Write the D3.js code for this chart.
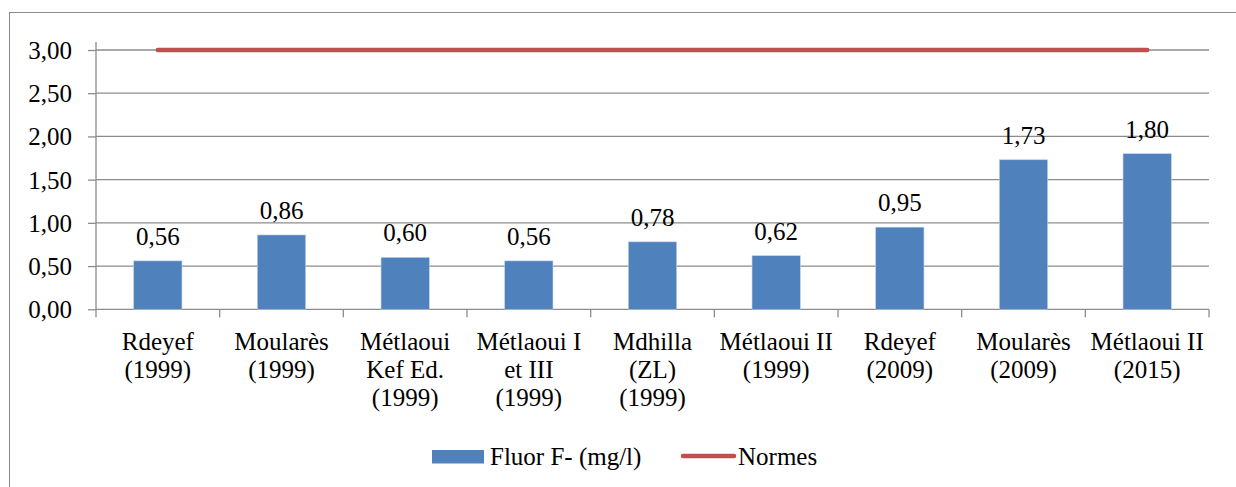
<!DOCTYPE html>
<html><head><meta charset="utf-8">
<script src="https://cdn.jsdelivr.net/npm/d3@7"></script>
<style>body{margin:0;background:#fff}svg{display:block}svg text{font-family:"Liberation Serif","Times New Roman",Times,"DejaVu Serif",serif !important;fill:#000}</style>
</head><body><svg id="c" width="1236" height="487"></svg>
<script>
const categories = [["Rdeyef","(1999)"],["Moularès","(1999)"],["Métlaoui","Kef Ed.","(1999)"],["Métlaoui I","et III","(1999)"],["Mdhilla","(ZL)","(1999)"],["Métlaoui II","(1999)"],["Rdeyef","(2009)"],["Moularès","(2009)"],["Métlaoui II","(2015)"]];
const fluor = [0.56,0.86,0.60,0.56,0.78,0.62,0.95,1.73,1.80];
const normes = [3,3,3,3,3,3,3,3,3];
const yTicks = [0,0.5,1,1.5,2,2.5,3];
const seriesNames = ["Fluor F- (mg/l)","Normes"];

const FF = '"Liberation Serif","Times New Roman",Times,"DejaVu Serif",serif';
const fmt = v => d3.format(".2f")(v).replace(".", ",");
const svg = d3.select("#c");
const FS = 25;
svg.append("rect").attr("x",9.5).attr("y",12.5).attr("width",1240).attr("height",490).attr("fill","none").attr("stroke","#8a8a8a").attr("stroke-width",1);

const L=96, R=1209, T=50, B=309.3;
const x = d3.scaleBand().domain(d3.range(categories.length)).range([L,R]).paddingInner(0).paddingOuter(0);
const y = d3.scaleLinear().domain([0,3]).range([B,T]);
const grid="#8c8c8c";

svg.append("g").selectAll("line").data(yTicks.filter(d=>d>0)).join("line")
 .attr("x1",L).attr("x2",R).attr("y1",d=>y(d)).attr("y2",d=>y(d)).attr("stroke",grid).attr("stroke-width",1.3);

const ya = svg.append("g").attr("transform",`translate(${L},0)`).call(d3.axisLeft(y).tickValues(yTicks).tickSize(8).tickPadding(16).tickFormat(fmt));
ya.attr("font-family",FF).attr("font-size",FS);
ya.select(".domain").attr("stroke",grid).attr("stroke-width",1.3).attr("d",`M-0,${T-8}V${B}`);
ya.selectAll(".tick line").attr("stroke",grid).attr("stroke-width",1.3);
ya.selectAll(".tick text").attr("dy","0.34em").style("font-family",FF).style("font-size",FS+"px");

const xa = svg.append("g").attr("transform",`translate(0,${B})`);
xa.append("line").attr("x1",L).attr("x2",R).attr("y1",0).attr("y2",0).attr("stroke",grid).attr("stroke-width",1.3);
xa.selectAll("line.t").data(d3.range(categories.length+1)).join("line").attr("class","t")
 .attr("x1",i=>L+i*x.bandwidth()).attr("x2",i=>L+i*x.bandwidth()).attr("y1",0).attr("y2",8).attr("stroke",grid).attr("stroke-width",1.3);
const lab = xa.selectAll("text").data(categories).join("text")
 .attr("text-anchor","middle").style("font-family",FF).style("font-size",FS+"px").attr("transform",(d,i)=>`translate(${x(i)+x.bandwidth()/2},41)`);
lab.selectAll("tspan").data(d=>d).join("tspan").attr("x",0).attr("dy",(d,i)=>i?28:0).text(d=>d);

const bw = x.bandwidth()*0.39;
svg.append("g").selectAll("rect").data(fluor).join("rect")
 .attr("x",(d,i)=>x(i)+x.bandwidth()/2-bw/2).attr("width",bw)
 .attr("y",d=>y(d)).attr("height",d=>B-y(d)).attr("fill","#4F81BD").attr("stroke","#b9cde5").attr("stroke-width",0.6);

svg.append("g").selectAll("text").data(fluor).join("text")
 .attr("x",(d,i)=>x(i)+x.bandwidth()/2).attr("y",d=>y(d)-16).attr("text-anchor","middle").style("font-family",FF).style("font-size",FS+"px").text(fmt);

svg.append("path").datum(normes).attr("fill","none").attr("stroke","#C0504D").attr("stroke-width",4.5).attr("stroke-linecap","round")
 .attr("d",d3.line().x((d,i)=>x(i)+x.bandwidth()/2).y(d=>y(d)));

const lg = svg.append("g");
lg.append("rect").attr("x",432).attr("y",450).attr("width",52).attr("height",13.5).attr("fill","#4F81BD");
lg.append("text").attr("x",490).attr("y",465).style("font-family",FF).style("font-size",FS+"px").text(seriesNames[0]);
lg.append("line").attr("x1",683).attr("x2",734).attr("y1",456).attr("y2",456).attr("stroke","#C0504D").attr("stroke-width",4.5).attr("stroke-linecap","round");
lg.append("text").attr("x",738).attr("y",465).style("font-family",FF).style("font-size",FS+"px").text(seriesNames[1]);
</script></body></html>
